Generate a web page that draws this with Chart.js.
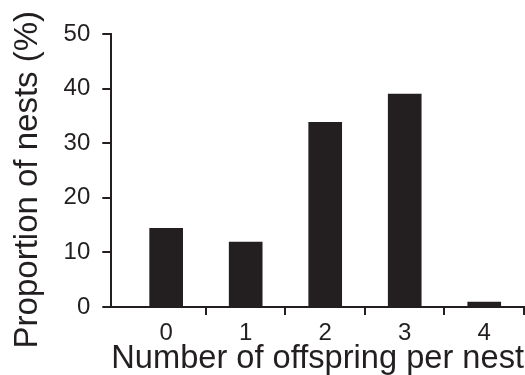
<!DOCTYPE html>
<html>
<head>
<meta charset="utf-8">
<script src="https://cdn.jsdelivr.net/npm/chart.js@4"></script>
<style>
  body { margin: 0; background: #fff; }
  canvas { display: block; }
</style>
</head>
<body>
<canvas id="myChart" width="525" height="375"></canvas>
<script>
const offspring = [0, 1, 2, 3, 4]
const proportion = [14.4, 11.9, 33.8, 39.0, 0.9]
const xTickValues = [0, 0.5, 1, 1.5, 2, 2.5, 3, 3.5, 4, 4.5]
const yTickValues = [0, 10, 20, 30, 40, 50]

const ink = '#231f20'
const fontFamily = '"Liberation Sans", Arial, sans-serif'

const ctx = document.getElementById('myChart')

new Chart(ctx, {
  type: 'bar',
  data: {
    datasets: [{
      data: offspring.map((x, i) => ({ x: x, y: proportion[i] })),
      backgroundColor: ink,
      barThickness: 33
    }]
  },
  options: {
    responsive: false,
    animation: false,
    layout: { padding: { top: 34, right: 1, left: 8, bottom: 0 } },
    plugins: {
      legend: { display: false },
      tooltip: { enabled: false }
    },
    scales: {
      x: {
        type: 'linear',
        offset: false,
        min: -0.69,
        max: 4.5,
        afterBuildTicks: axis => { axis.ticks = xTickValues.map(v => ({ value: v })) },
        // no label sits on the end ticks, so don't reserve room for one
        afterFit: axis => { axis.paddingRight = 0 },
        border: { display: true, color: ink, width: 2 },
        grid: {
          offset: false,
          drawOnChartArea: false,
          tickLength: 8,
          lineWidth: 2,
          color: c => (c.tick && c.tick.value % 1 !== 0) ? ink : 'rgba(0,0,0,0)'
        },
        ticks: {
          autoSkip: false,
          maxRotation: 0,
          padding: 6,
          color: ink,
          font: { family: fontFamily, size: 24, lineHeight: 1 },
          callback: v => Number.isInteger(v) ? String(v) : ''
        },
        title: {
          display: true,
          text: 'Number of offspring per nest',
          color: ink,
          font: { family: fontFamily, size: 33, lineHeight: 1 },
          padding: { top: -9, bottom: 0 }
        }
      },
      y: {
        min: 0,
        max: 50,
        afterBuildTicks: axis => { axis.ticks = yTickValues.map(v => ({ value: v })) },
        border: { display: true, color: ink, width: 2 },
        grid: {
          drawOnChartArea: false,
          tickLength: 9,
          lineWidth: 2,
          color: ink
        },
        ticks: {
          padding: 12,
          color: ink,
          font: { family: fontFamily, size: 24 }
        },
        title: {
          display: true,
          text: 'Proportion of nests (%)  ',
          color: ink,
          font: { family: fontFamily, size: 33 },
          padding: { top: 0, bottom: 4 }
        }
      }
    }
  }
})
</script>
</body>
</html>
